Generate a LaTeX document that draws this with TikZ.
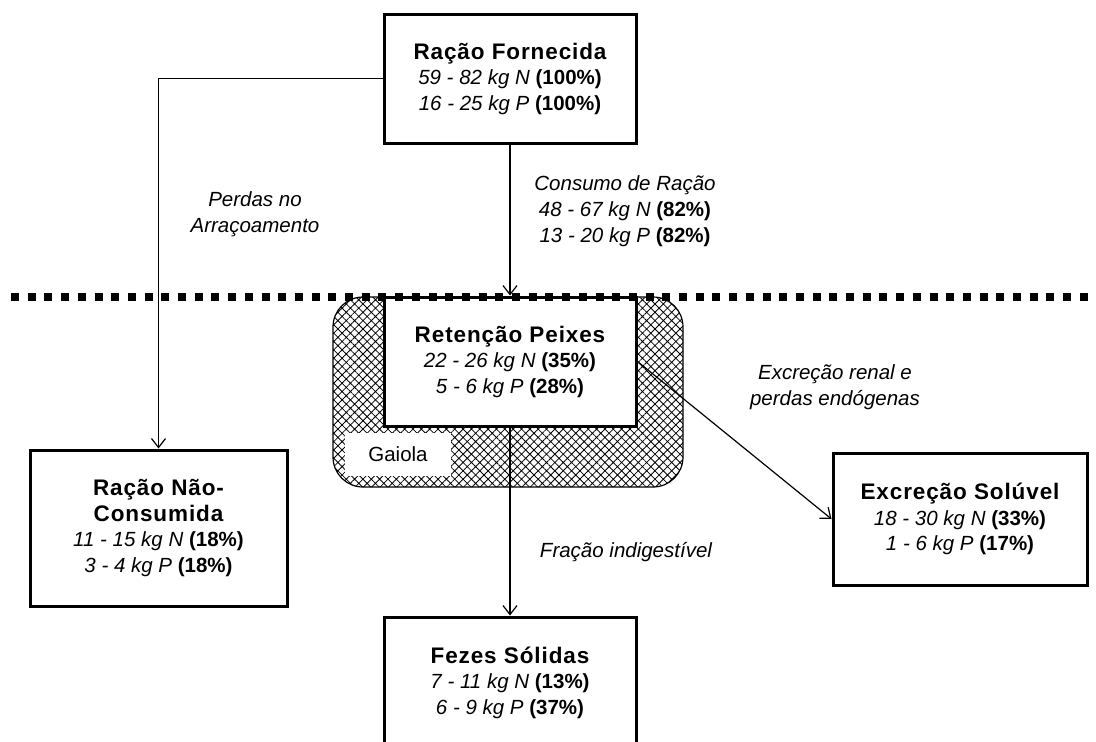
\documentclass[tikz,border=0pt]{standalone}
\usepackage{fontspec}
\setmainfont{Liberation Sans}
\newfontfamily\ttlfont{Liberation Sans}[LetterSpace=4]
\usetikzlibrary{arrows.meta,patterns.meta}
\newcommand{\ttline}[1]{{\ttlfont\fontsize{22.5}{26}\selectfont\bfseries #1}}
\newcommand{\qtyline}[2]{\textit{#1} \textbf{(#2\%)}}
\begin{document}
\begin{tikzpicture}[x=1pt,y=-1pt,
  box/.style={draw,line width=3pt,fill=white,minimum width=252pt,minimum height=129pt,
    align=center,inner sep=0pt,font=\fontsize{20.5}{25.5}\selectfont},
  lbl/.style={align=center,inner sep=0pt,font=\fontsize{20.5}{26}\selectfont\itshape},
  conn/.style={line width=1.2pt,-{Straight Barb[length=9pt,width=14pt,line width=1.2pt]}},
  dotline/.style={line width=8pt,dash pattern=on 8pt off 8.7pt},
]
\useasboundingbox (0,0) rectangle (1096,742);

% cage
\node[draw,line width=1.2pt,rounded corners=30pt,minimum width=350pt,minimum height=190pt,
  pattern={Hatch[angle=45,distance=5.9pt,line width=0.8pt]}] (gaiola) at (508,392) {};
\node[fill=white,minimum width=106pt,minimum height=43pt,inner sep=0pt,
  font=\fontsize{20.5}{24}\selectfont] (gaiolalbl) at (398,454.5) {Gaiola};

% boxes
\node[box] (RF) at (510,78.5) {\ttline{Ração Fornecida}\\
  \qtyline{59 - 82 kg N}{100}\\ \qtyline{16 - 25 kg P}{100}};
\node[box] (Ret) at (510,361.5) {\ttline{Retenção Peixes}\\
  \qtyline{22 - 26 kg N}{35}\\ \qtyline{5 - 6 kg P}{28}};
\node[box,minimum width=257pt,minimum height=156pt] (RNC) at (158.5,528) {\ttline{Ração Não-}\\ \ttline{Consumida}\\
  \qtyline{11 - 15 kg N}{18}\\ \qtyline{3 - 4 kg P}{18}};
\node[box,minimum width=254pt,minimum height=132pt] (ExS) at (960,519) {\ttline{Excreção Solúvel}\\
  \qtyline{18 - 30 kg N}{33}\\ \qtyline{1 - 6 kg P}{17}};
\node[box,minimum height=131pt] (Fez) at (510,682.5) {\ttline{Fezes Sólidas}\\
  \qtyline{7 - 11 kg N}{13}\\ \qtyline{6 - 9 kg P}{37}};

% dotted separator
\coordinate (dl1) at (11,297);
\coordinate (dl2) at (1096,297);
\draw[dotline] (dl1) -- (dl2);

% labels
\node[lbl] (perdas) at (255,214) {Perdas no\\Arraçoamento};
\node[lbl] (consumo) at (625,211) {Consumo de Ração\\
  48 - 67 kg N \textbf{\upshape(82\%)}\\ 13 - 20 kg P \textbf{\upshape(82\%)}};
\node[lbl] (renal) at (835,387) {Excreção renal e\\perdas endógenas};
\node[lbl] (fracao) at (626,552) {Fração indigestível};

% connectors
\draw[conn] (RF.west) -| (RNC.north);
\draw[conn] (RF.south) -- (Ret.north);
\draw[conn] (Ret.south) -- (Fez.north);
\draw[conn] (Ret.east) -- (ExS.west);
\end{tikzpicture}
\end{document}
